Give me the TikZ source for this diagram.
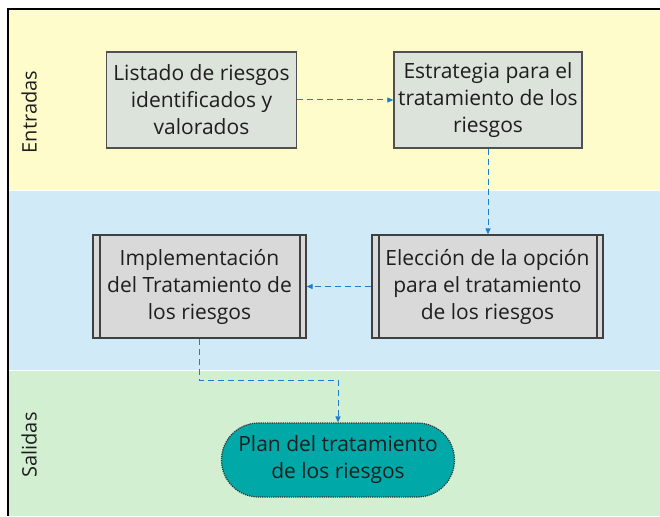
\documentclass[tikz,border=0pt]{standalone}
\usepackage{fontspec}
\setmainfont{Open Sans}
\usetikzlibrary{arrows.meta,shapes.misc}
\definecolor{laneY}{RGB}{255,252,204}
\definecolor{laneB}{RGB}{208,234,247}
\definecolor{laneG}{RGB}{210,239,210}
\definecolor{boxA}{RGB}{219,227,218}
\definecolor{boxB}{RGB}{217,217,217}
\definecolor{edgeA}{RGB}{80,80,80}
\definecolor{flow}{RGB}{30,125,205}
\definecolor{teal}{RGB}{0,168,168}
\definecolor{ink}{RGB}{30,30,30}
\tikzset{
  txt/.style={font=\fontsize{21}{27}\selectfont, text=ink, align=center, inner sep=0pt},
  inbox/.style={txt, draw=edgeA, fill=boxA, line width=1.2pt, rectangle},
  procbox/.style={txt, draw=edgeA!80!black, fill=boxB, line width=1.2pt, rectangle,
    path picture={
      \draw[edgeA!80!black, line width=1.2pt]
        ([xshift=7pt]path picture bounding box.north west) -- ([xshift=7pt]path picture bounding box.south west)
        ([xshift=-6pt]path picture bounding box.north east) -- ([xshift=-6pt]path picture bounding box.south east);
    }},
  outbox/.style={txt, rounded rectangle, draw=black!80, densely dotted, fill=teal, line width=1.2pt},
  lanelabel/.style={font=\fontsize{20}{24}\selectfont, text=ink, rotate=90, inner sep=0pt},
  flowline/.style={draw=flow, line width=1pt, dash pattern=on 6pt off 4pt, -{Triangle[length=6pt,width=5pt]}}
}
\begin{document}
\begin{tikzpicture}[x=1pt,y=-1pt]
\useasboundingbox (0,0) rectangle (660,516);
\fill[white] (0,0) rectangle (660,516);
\fill[laneY] (8,9) rectangle (660,190);
\fill[laneB] (8,191) rectangle (660,370);
\fill[laneG] (8,371) rectangle (660,516);
\draw[black, line width=1.3pt] (8,516) -- (8,9) -- (660,9);

\node[lanelabel] (lin) at (29,112) {Entradas};
\node[lanelabel] (lout) at (29,445) {Salidas};

\node[inbox, minimum width=190pt, minimum height=96pt] (n1) at (201.5,100)
  {Listado de riesgos\\identificados y\\valorados};
\node[inbox, minimum width=188pt, minimum height=96pt] (n2) at (488,100)
  {Estrategia para el\\tratamiento de los\\riesgos};
\node[procbox, minimum width=231pt, minimum height=103pt] (n3) at (487.5,286.5)
  {Elección de la opción\\para el tratamiento\\de los riesgos};
\node[procbox, minimum width=213pt, minimum height=103pt] (n4) at (199.5,286.5)
  {Implementación\\del Tratamiento de\\los riesgos};
\node[outbox, minimum width=233pt, minimum height=74pt] (n5) at (338,460)
  {Plan del tratamiento\\de los riesgos};

\draw[flowline] (n1.east) -- (n2.west);
\draw[flowline] (n2.south) -- (n2.south |- n3.north);
\draw[flowline] (n3.west) -- (n4.east);
\draw[flowline] (n4.south) -- ++(0,42) -| (n5.north);
\end{tikzpicture}
\end{document}
